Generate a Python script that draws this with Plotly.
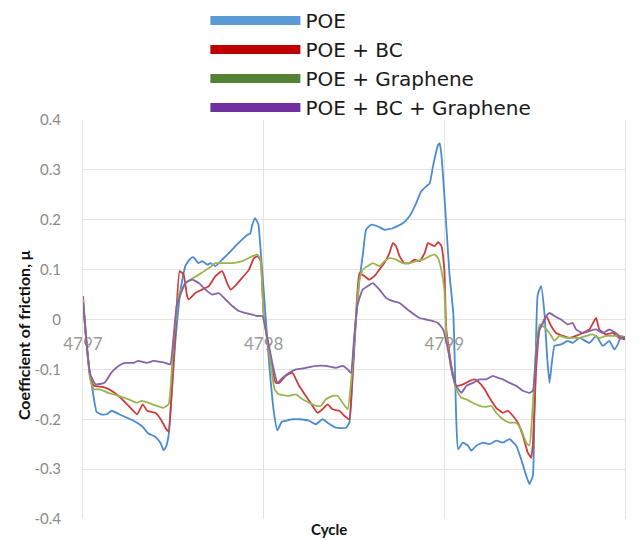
import plotly.graph_objects as go

series_names = ["POE", "POE + BC", "POE + Graphene", "POE + BC + Graphene"]
legend_colors = ["#5b9bd5", "#c00000", "#548235", "#7030a0"]
line_colors = ["#4a8bd2", "#cf3b3b", "#9ab550", "#8464a8"]

poe_x = [4797.000, 4797.015, 4797.035, 4797.050, 4797.075, 4797.100, 4797.130, 4797.160, 4797.200, 4797.250,
         4797.290, 4797.330, 4797.360, 4797.400, 4797.430, 4797.446, 4797.460, 4797.474, 4797.510, 4797.540,
         4797.567, 4797.594, 4797.610, 4797.640, 4797.660, 4797.690, 4797.706, 4797.733, 4797.770, 4797.807,
         4797.844, 4797.880, 4797.910, 4797.925, 4797.937, 4797.952, 4797.970, 4797.983,
         4798.002, 4798.030, 4798.057, 4798.076, 4798.100, 4798.122, 4798.160, 4798.196, 4798.252, 4798.289,
         4798.326, 4798.354, 4798.400, 4798.456, 4798.474, 4798.495, 4798.511, 4798.530, 4798.548, 4798.567,
         4798.594, 4798.631, 4798.669, 4798.715, 4798.770, 4798.807, 4798.844, 4798.872, 4798.900, 4798.919,
         4798.937, 4798.965, 4798.974, 4798.983, 4799.000,
         4799.028, 4799.050, 4799.066, 4799.076, 4799.103, 4799.131, 4799.149, 4799.177, 4799.214, 4799.250,
         4799.287, 4799.324, 4799.361, 4799.398, 4799.425, 4799.453, 4799.471, 4799.490, 4799.499, 4799.517,
         4799.536, 4799.554, 4799.570, 4799.582, 4799.610, 4799.646, 4799.683, 4799.711, 4799.748, 4799.803,
         4799.840, 4799.877, 4799.913, 4799.941, 4799.960, 4799.978, 4800.000]
poe_y = [0.035, -0.030, -0.100, -0.135, -0.185, -0.190, -0.190, -0.183, -0.190, -0.198,
         -0.205, -0.215, -0.228, -0.235, -0.248, -0.262, -0.255, -0.232, -0.050, 0.060,
         0.108, 0.122, 0.125, 0.113, 0.117, 0.110, 0.113, 0.107, 0.120, 0.133,
         0.147, 0.160, 0.170, 0.172, 0.190, 0.203, 0.192, 0.140,
         0.050, -0.087, -0.187, -0.222, -0.205, -0.203, -0.200, -0.200, -0.203, -0.210,
         -0.200, -0.207, -0.217, -0.217, -0.207, -0.100, 0.000, 0.080, 0.127, 0.180,
         0.190, 0.187, 0.180, 0.183, 0.193, 0.207, 0.233, 0.257, 0.267, 0.273,
         0.307, 0.350, 0.353, 0.333, 0.250,
         0.093, 0.010, -0.200, -0.260, -0.247, -0.253, -0.263, -0.253, -0.247, -0.250,
         -0.243, -0.247, -0.240, -0.253, -0.280, -0.313, -0.330, -0.313, -0.187, 0.050,
         0.067, 0.013, -0.080, -0.127, -0.053, -0.050, -0.043, -0.047, -0.037, -0.047,
         -0.033, -0.053, -0.043, -0.060, -0.050, -0.033, -0.040]

bc_x = [4797.000, 4797.020, 4797.040, 4797.060, 4797.108, 4797.145, 4797.196, 4797.252, 4797.300, 4797.330,
        4797.355, 4797.400, 4797.430, 4797.456, 4797.474, 4797.490, 4797.510, 4797.535, 4797.557, 4797.576,
        4797.585, 4797.622, 4797.659, 4797.696, 4797.733, 4797.770, 4797.798, 4797.817, 4797.844, 4797.880,
        4797.919, 4797.946, 4797.965, 4797.983,
        4798.000, 4798.040, 4798.067, 4798.085, 4798.122, 4798.159, 4798.196, 4798.233, 4798.270, 4798.298,
        4798.326, 4798.354, 4798.381, 4798.418, 4798.446, 4798.474, 4798.490, 4798.510, 4798.530, 4798.557,
        4798.585, 4798.613, 4798.640, 4798.668, 4798.696, 4798.715, 4798.733, 4798.752, 4798.779, 4798.807,
        4798.835, 4798.863, 4798.891, 4798.909, 4798.928, 4798.946, 4798.965, 4798.983, 4799.000,
        4799.011, 4799.039, 4799.066, 4799.103, 4799.140, 4799.168, 4799.195, 4799.223, 4799.250, 4799.287,
        4799.324, 4799.352, 4799.379, 4799.407, 4799.435, 4799.462, 4799.481, 4799.490, 4799.508, 4799.527,
        4799.545, 4799.564, 4799.591, 4799.619, 4799.656, 4799.692, 4799.729, 4799.766, 4799.803, 4799.840,
        4799.858, 4799.895, 4799.932, 4799.969, 4800.000]
bc_y = [0.047, -0.050, -0.115, -0.133, -0.135, -0.140, -0.153, -0.173, -0.190, -0.170,
        -0.183, -0.187, -0.200, -0.217, -0.225, -0.150, -0.030, 0.097, 0.090, 0.047,
        0.040, 0.053, 0.060, 0.067, 0.087, 0.097, 0.073, 0.060, 0.068, 0.083,
        0.100, 0.123, 0.127, 0.118,
        0.010, -0.087, -0.127, -0.127, -0.113, -0.107, -0.133, -0.153, -0.173, -0.187,
        -0.180, -0.170, -0.180, -0.183, -0.193, -0.200, -0.120, 0.000, 0.093, 0.087,
        0.080, 0.087, 0.100, 0.113, 0.133, 0.153, 0.147, 0.127, 0.113, 0.113,
        0.120, 0.117, 0.133, 0.153, 0.150, 0.147, 0.155, 0.148, 0.100,
        -0.020, -0.093, -0.133, -0.130, -0.123, -0.120, -0.127, -0.140, -0.157, -0.177,
        -0.187, -0.183, -0.193, -0.207, -0.233, -0.267, -0.277, -0.250, -0.100, -0.020,
        -0.007, 0.007, -0.013, -0.027, -0.033, -0.037, -0.033, -0.027, -0.020, 0.003,
        -0.020, -0.030, -0.027, -0.037, -0.040]

gr_x = [4797.000, 4797.020, 4797.040, 4797.060, 4797.094, 4797.141, 4797.196, 4797.252, 4797.298, 4797.326,
        4797.363, 4797.409, 4797.446, 4797.474, 4797.500, 4797.530, 4797.567, 4797.594, 4797.641, 4797.696,
        4797.733, 4797.770, 4797.826, 4797.881, 4797.937, 4797.965, 4797.983,
        4798.000, 4798.040, 4798.060, 4798.085, 4798.141, 4798.178, 4798.215, 4798.252, 4798.289, 4798.317,
        4798.344, 4798.381, 4798.409, 4798.437, 4798.465, 4798.490, 4798.510, 4798.530, 4798.548, 4798.576,
        4798.604, 4798.641, 4798.669, 4798.696, 4798.733, 4798.770, 4798.807, 4798.844, 4798.881, 4798.919,
        4798.946, 4798.965, 4798.983, 4799.000,
        4799.011, 4799.039, 4799.066, 4799.094, 4799.122, 4799.158, 4799.195, 4799.232, 4799.260, 4799.287,
        4799.324, 4799.361, 4799.398, 4799.425, 4799.453, 4799.471, 4799.490, 4799.508, 4799.527, 4799.545,
        4799.582, 4799.610, 4799.637, 4799.674, 4799.711, 4799.748, 4799.785, 4799.821, 4799.858, 4799.895,
        4799.932, 4799.969, 4800.000]
gr_y = [0.040, -0.050, -0.120, -0.140, -0.140, -0.147, -0.153, -0.160, -0.167, -0.163,
        -0.167, -0.173, -0.177, -0.170, -0.050, 0.050, 0.073, 0.080, 0.090, 0.103,
        0.113, 0.113, 0.113, 0.117, 0.127, 0.130, 0.120,
        0.010, -0.090, -0.140, -0.150, -0.153, -0.150, -0.160, -0.167, -0.173, -0.173,
        -0.160, -0.153, -0.153, -0.167, -0.180, -0.100, 0.000, 0.080, 0.100, 0.107,
        0.113, 0.107, 0.117, 0.123, 0.120, 0.113, 0.113, 0.117, 0.120, 0.127,
        0.130, 0.123, 0.100, 0.060,
        -0.030, -0.100, -0.140, -0.157, -0.160, -0.167, -0.173, -0.175, -0.173, -0.187,
        -0.200, -0.207, -0.207, -0.220, -0.247, -0.253, -0.170, -0.060, -0.010, -0.013,
        -0.027, -0.043, -0.033, -0.037, -0.037, -0.037, -0.033, -0.030, -0.037, -0.033,
        -0.033, -0.033, -0.035]

bcg_x = [4797.000, 4797.020, 4797.040, 4797.070, 4797.119, 4797.156, 4797.196, 4797.233, 4797.279, 4797.307,
         4797.353, 4797.390, 4797.428, 4797.456, 4797.483, 4797.500, 4797.520, 4797.567, 4797.604, 4797.641,
         4797.678, 4797.715, 4797.752, 4797.789, 4797.826, 4797.863, 4797.900, 4797.937, 4797.965, 4797.993,
         4798.011, 4798.048, 4798.076, 4798.104, 4798.141, 4798.178, 4798.233, 4798.289, 4798.344, 4798.400,
         4798.437, 4798.465, 4798.483, 4798.500, 4798.520, 4798.548, 4798.576, 4798.604, 4798.641, 4798.678,
         4798.715, 4798.752, 4798.807, 4798.863, 4798.900, 4798.937, 4798.965, 4798.993,
         4799.020, 4799.045, 4799.066, 4799.094, 4799.122, 4799.158, 4799.195, 4799.232, 4799.269, 4799.297,
         4799.324, 4799.361, 4799.398, 4799.435, 4799.471, 4799.490, 4799.508, 4799.527, 4799.545, 4799.564,
         4799.582, 4799.610, 4799.646, 4799.683, 4799.711, 4799.729, 4799.766, 4799.803, 4799.840, 4799.877,
         4799.913, 4799.950, 4799.978, 4800.000]
bcg_y = [0.035, -0.050, -0.110, -0.130, -0.127, -0.107, -0.093, -0.087, -0.087, -0.083,
         -0.087, -0.083, -0.085, -0.087, -0.090, -0.040, 0.030, 0.073, 0.080, 0.073,
         0.060, 0.050, 0.053, 0.040, 0.027, 0.017, 0.013, 0.010, 0.007, 0.007,
         -0.020, -0.087, -0.127, -0.117, -0.107, -0.100, -0.097, -0.093, -0.093, -0.097,
         -0.093, -0.100, -0.107, -0.040, 0.030, 0.060, 0.067, 0.073, 0.060, 0.043,
         0.037, 0.033, 0.017, 0.003, 0.000, -0.003, -0.007, -0.020,
         -0.060, -0.110, -0.133, -0.147, -0.133, -0.127, -0.120, -0.120, -0.113, -0.117,
         -0.120, -0.127, -0.133, -0.143, -0.147, -0.143, -0.070, -0.020, -0.007, 0.007,
         0.013, 0.007, 0.000, -0.010, -0.007, -0.020, -0.027, -0.023, -0.020, -0.027,
         -0.020, -0.027, -0.037, -0.035]

y_tick_vals = [-0.4, -0.3, -0.2, -0.1, 0, 0.1, 0.2, 0.3, 0.4]
y_tick_text = ["-0.4", "-0.3", "-0.2", "-0.1", "0", "0.1", "0.2", "0.3", "0.4"]
x_tick_vals = [4797, 4798, 4799, 4800]
x_tick_text = ["4797", "4798", "4799", "4800"]
y_title = "Coefficient of friction, μ"
x_title = "Cycle"

xs = [poe_x, bc_x, gr_x, bcg_x]
ys = [poe_y, bc_y, gr_y, bcg_y]

fig = go.Figure()
for name, x, y, c in zip(series_names, xs, ys, line_colors):
    fig.add_trace(go.Scatter(x=x, y=y, mode="lines", name=name, showlegend=False,
                             line=dict(color=c, width=1.8, shape="spline", smoothing=0.4),
                             hoverinfo="skip"))
for i, (name, c) in enumerate(zip(series_names, legend_colors)):
    fig.add_trace(go.Scatter(x=[None], y=[None], mode="lines", name=name, legendgroup=f"g{i}",
                             line=dict(color=c, width=9)))

grid = "#e3e3e3"
tick_font = dict(family="Lato, sans-serif", size=15, color="#8a8a8a")

fig.update_layout(
    width=640, height=540,
    margin=dict(l=83, r=15, t=120, b=21, autoexpand=False),
    paper_bgcolor="white", plot_bgcolor="white",
    showlegend=True,
    legend=dict(x=0.2258, xanchor="left", y=0.9825, yanchor="bottom", orientation="v",
                font=dict(family="DejaVu Sans, sans-serif", size=20, color="#1a1a1a"),
                itemwidth=90, tracegroupgap=0, bgcolor="rgba(0,0,0,0)", borderwidth=0),
    xaxis=dict(range=[4797, 4800], tickmode="array", tickvals=x_tick_vals, ticktext=x_tick_text,
               anchor="free", position=0.5, showgrid=True, gridcolor=grid, gridwidth=1,
               zeroline=False, showline=False, ticks="", layer="below traces",
               tickfont=dict(family="Lato, sans-serif", size=17, color="#9a9a9a"),
               ticklabelstandoff=12),
    yaxis=dict(range=[-0.4, 0.4], tickmode="array", tickvals=y_tick_vals, ticktext=y_tick_text,
               showgrid=True, gridcolor=grid, gridwidth=1, zeroline=False,
               showline=True, linecolor=grid, linewidth=1, mirror=True, ticks="",
               tickfont=tick_font, ticklabelstandoff=18),
)

fig.add_annotation(text=y_title, xref="paper", yref="paper", x=-0.1107, y=0.461, textangle=-90,
                   xanchor="center", yanchor="middle", showarrow=False,
                   font=dict(family="Lato, sans-serif", size=16, color="#111", weight="bold"))
fig.add_annotation(text=x_title, xref="paper", yref="paper", x=0.454, y=-0.025,
                   xanchor="center", yanchor="middle", showarrow=False,
                   font=dict(family="Lato, sans-serif", size=15, color="#111", weight="bold"))

fig.write_html("out.html")
